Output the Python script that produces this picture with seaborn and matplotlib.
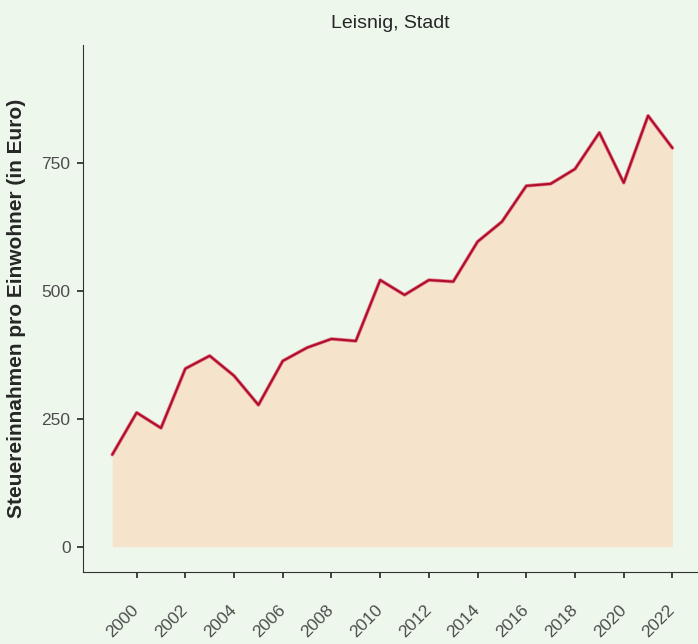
import seaborn as sns
import matplotlib.pyplot as plt
import matplotlib.transforms as mtrans
import pandas as pd

years = list(range(1999, 2023))
steuer = [180, 262, 232, 348, 373, 334, 277, 363, 389, 406, 402, 521,
          492, 521, 518, 596, 635, 705, 709, 738, 809, 711, 842, 779]
tick_years = list(range(2000, 2023, 2))

df = pd.DataFrame({'jahr': years, 'wert': steuer})

sns.set_style('ticks')
plt.rcParams['font.family'] = ['Liberation Sans', 'DejaVu Sans']
bg = '#EDF7EC'

fig = plt.figure(figsize=(6.98, 6.44), dpi=100, facecolor=bg)
ax = fig.add_axes([0.119, 0.112, 0.881, 0.818])
ax.set_facecolor(bg)

ax.fill_between(df['jahr'], 0, df['wert'], color='#F5E3CB', lw=0)
sns.lineplot(data=df, x='jahr', y='wert', ax=ax, color='#E07C88', lw=2.6)
sns.lineplot(data=df, x='jahr', y='wert', ax=ax, color='#B00C2C', lw=1.5)

ax.set_xlim(1997.8, 2023.05)
ax.set_ylim(-49, 980)
ax.set_xticks(tick_years)
ax.set_xticklabels([str(y) for y in tick_years], rotation=45, fontsize=12.5,
                   color='#4D4D4D', ha='right', va='center', rotation_mode='anchor')
ax.tick_params(axis='x', pad=22)
shift = mtrans.ScaledTranslation(6 / 100, 0, fig.dpi_scale_trans)
for lab in ax.get_xticklabels():
    lab.set_transform(lab.get_transform() + shift)
ax.set_yticks([0, 250, 500, 750])
ax.tick_params(axis='y', labelsize=12.5, labelcolor='#4D4D4D', pad=5)
ax.tick_params(length=4, width=1.3, color='#333333')

sns.despine(ax=ax)
ax.spines['left'].set_color('#333333')
ax.spines['bottom'].set_color('#333333')

ax.set_xlabel('')
ax.set_ylabel('')
fig.text(17 / 698, 1 - 308 / 644, 'Steuereinnahmen pro Einwohner (in Euro)',
         rotation=90, ha='center', va='center', fontsize=15, fontweight='bold')
ax.set_title('Leisnig, Stadt', fontsize=14, pad=12)

fig.savefig('out.png', dpi=100, facecolor=bg)
